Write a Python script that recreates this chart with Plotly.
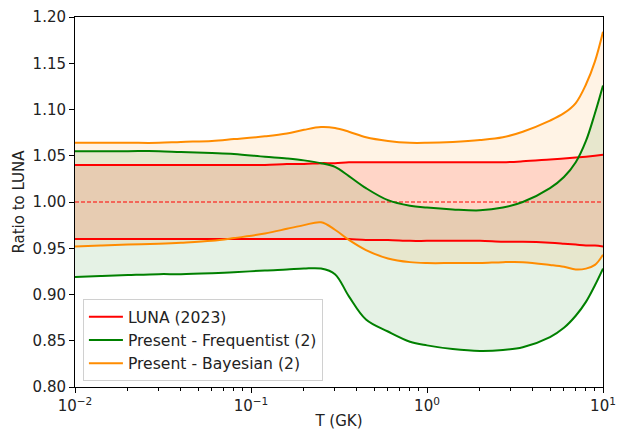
import plotly.graph_objects as go

# Temperature grid (GK)
T = [0.01, 0.014, 0.02, 0.03, 0.04, 0.06, 0.08, 0.12, 0.16, 0.2, 0.25, 0.3, 0.36,
     0.45, 0.6, 0.8, 1.0, 1.4, 2.0, 2.7, 3.5, 5.0, 6.0, 7.0, 8.0, 9.0, 10.0]

# LUNA (2023) band, ratio to LUNA central value
luna_hi = [1.040, 1.040, 1.040, 1.040, 1.040, 1.040, 1.040, 1.040, 1.041, 1.041, 1.042,
           1.042, 1.043, 1.043, 1.043, 1.043, 1.043, 1.043, 1.043, 1.043, 1.044, 1.046,
           1.047, 1.048, 1.049, 1.050, 1.051]
luna_lo = [0.960, 0.960, 0.960, 0.960, 0.960, 0.960, 0.960, 0.960, 0.960, 0.960, 0.960,
           0.960, 0.960, 0.959, 0.959, 0.958, 0.958, 0.958, 0.958, 0.957, 0.957, 0.956,
           0.955, 0.954, 0.953, 0.953, 0.952]

# Present work - frequentist band
freq_hi = [1.055, 1.055, 1.055, 1.055, 1.054, 1.053, 1.052, 1.049, 1.047, 1.045, 1.042,
           1.038, 1.028, 1.015, 1.002, 0.996, 0.994, 0.992, 0.991, 0.994, 1.000, 1.015,
           1.027, 1.043, 1.066, 1.096, 1.126]
freq_lo = [0.919, 0.920, 0.921, 0.922, 0.922, 0.923, 0.924, 0.926, 0.927, 0.928, 0.928,
           0.922, 0.898, 0.873, 0.860, 0.849, 0.845, 0.841, 0.839, 0.840, 0.843, 0.854,
           0.864, 0.877, 0.892, 0.910, 0.928]

# Present work - Bayesian band
bayes_hi = [1.064, 1.064, 1.064, 1.064, 1.065, 1.066, 1.068, 1.071, 1.074, 1.078, 1.081,
            1.080, 1.076, 1.070, 1.066, 1.064, 1.064, 1.065, 1.067, 1.070, 1.076, 1.088,
            1.096, 1.107, 1.127, 1.152, 1.184]
bayes_lo = [0.952, 0.953, 0.954, 0.955, 0.956, 0.958, 0.961, 0.966, 0.971, 0.975, 0.978,
            0.970, 0.959, 0.948, 0.939, 0.935, 0.934, 0.934, 0.934, 0.935, 0.935, 0.932,
            0.930, 0.927, 0.928, 0.932, 0.943]

series = [
    ("LUNA (2023)", luna_lo, luna_hi, "#ff0000", "rgba(255,0,0,0.13)"),
    ("Present - Frequentist (2)", freq_lo, freq_hi, "#008000", "rgba(0,128,0,0.10)"),
    ("Present - Bayesian (2)", bayes_lo, bayes_hi, "#ff8c00", "rgba(255,140,0,0.10)"),
]

fig = go.Figure()

# shaded bands first
for name, lo, hi, col, fcol in series:
    fig.add_trace(go.Scatter(x=T, y=lo, mode="lines", line=dict(width=0, shape="spline"),
                             showlegend=False, hoverinfo="skip"))
    fig.add_trace(go.Scatter(x=T, y=hi, mode="lines", line=dict(width=0, shape="spline"),
                             fill="tonexty", fillcolor=fcol, showlegend=False,
                             hoverinfo="skip"))

# reference line at unity
fig.add_trace(go.Scatter(x=[T[0], T[-1]], y=[1.0, 1.0], mode="lines",
                         line=dict(color="#ff0000", width=1, dash="4px,2px"),
                         showlegend=False, hoverinfo="skip"))

# band edges
for name, lo, hi, col, fcol in series:
    fig.add_trace(go.Scatter(x=T, y=hi, mode="lines", name=name, legendgroup=name,
                             line=dict(color=col, width=2, shape="spline")))
    fig.add_trace(go.Scatter(x=T, y=lo, mode="lines", name=name, legendgroup=name,
                             showlegend=False,
                             line=dict(color=col, width=2, shape="spline")))

font = dict(family="DejaVu Sans", size=15, color="#222222")
legend_font = dict(family="DejaVu Sans", size=15.6, color="#222222")
minor_vals = [m * 10.0 ** e for e in (-2, -1, 0) for m in range(2, 10)]

fig.update_layout(
    width=625, height=430,
    margin=dict(l=75, r=22, t=17, b=43),
    paper_bgcolor="white", plot_bgcolor="white",
    font=font,
    showlegend=True,
    legend=dict(x=0.015, y=0.016, xanchor="left", yanchor="bottom",
                bgcolor="rgba(255,255,255,0.8)", bordercolor="#d0d0d0", borderwidth=1,
                font=legend_font, tracegroupgap=0, itemwidth=34),
    xaxis=dict(type="log", range=[-2, 1], showgrid=False, zeroline=False, automargin=False,
               showline=True, linecolor="black", linewidth=1, mirror=True,
               ticks="outside", ticklen=5, tickcolor="black",
               tickvals=[0.01, 0.1, 1, 10],
               ticktext=["10<sup>−2</sup>", "10<sup>−1</sup>", "10<sup>0</sup>", "10<sup>1</sup>"],
               minor=dict(tickvals=minor_vals, ticks="outside", ticklen=3, tickcolor="black"),
               title=dict(text="T (GK)", font=font, standoff=4)),
    yaxis=dict(range=[0.8, 1.2], showgrid=False, zeroline=False, automargin=False,
               showline=True, linecolor="black", linewidth=1, mirror=True,
               ticks="outside", ticklen=5, tickcolor="black",
               tickvals=[0.80, 0.85, 0.90, 0.95, 1.00, 1.05, 1.10, 1.15, 1.20],
               ticktext=["0.80", "0.85", "0.90", "0.95", "1.00", "1.05", "1.10", "1.15", "1.20"],
               title=dict(text="Ratio to LUNA", font=font, standoff=4)),
)

fig.write_html("out.html")
